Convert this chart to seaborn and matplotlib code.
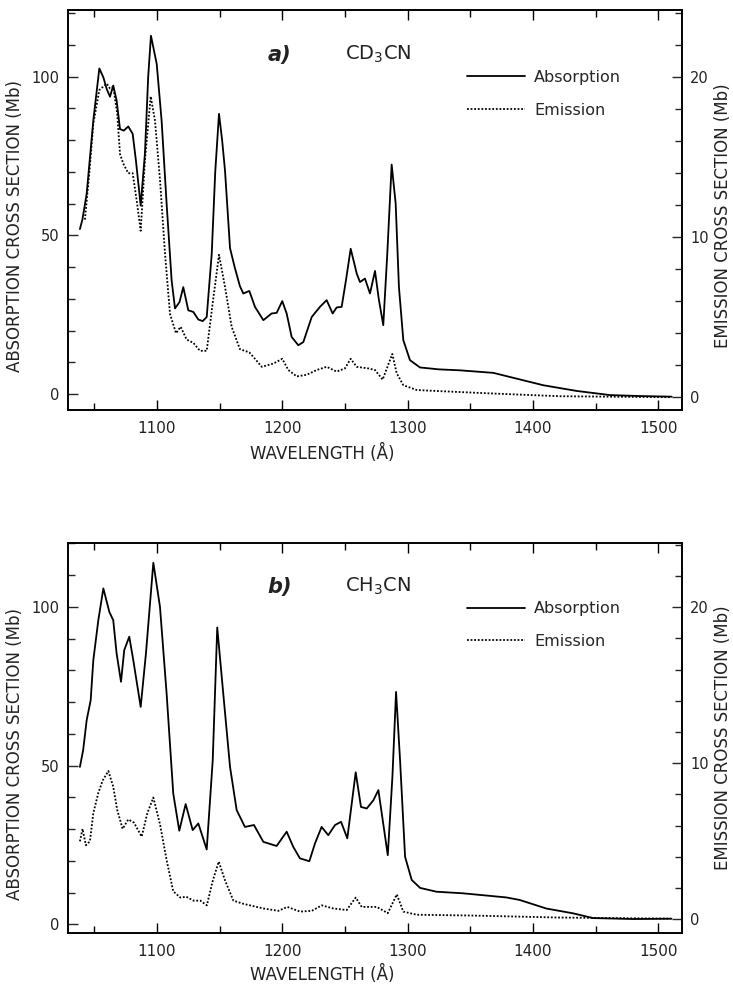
import numpy as np
import pandas as pd
import matplotlib
matplotlib.use("Agg")
import matplotlib.pyplot as plt
from matplotlib.ticker import MultipleLocator
import seaborn as sns

# ---------------- data ----------------
# Panel a) CD3CN
wl_a_abs = [1038.5, 1040.5, 1043.9, 1049.2, 1054.0, 1057.2, 1060.0, 1062.5, 1065.1, 1067.8,
            1070.5, 1073.5, 1077.1, 1080.6, 1083.2, 1087.0, 1090.4, 1093.0, 1095.2, 1099.8,
            1103.7, 1107.7, 1111.7, 1114.4, 1118.0, 1121.0, 1125.0, 1129.0, 1133.0, 1136.5,
            1139.7, 1143.7, 1146.5, 1149.5, 1152.0, 1154.3, 1158.3, 1162.0, 1166.2, 1168.9,
            1173.7, 1178.2, 1184.9, 1191.5, 1195.5, 1200.0, 1203.5, 1207.5, 1212.8, 1216.8,
            1223.5, 1230.1, 1235.4, 1240.2, 1243.4, 1247.4, 1250.8, 1254.6, 1259.4, 1262.0,
            1266.0, 1270.0, 1274.0, 1277.0, 1280.6, 1283.8, 1287.3, 1290.5, 1293.1, 1296.6,
            1301.9, 1309.9, 1325.0, 1341.8, 1368.4, 1381.7, 1408.3, 1435.0, 1461.5, 1485.0,
            1510.8]
abs_a = [52.0, 55.0, 63.1, 86.2, 102.6, 99.8, 96.0, 93.7, 97.2, 92.5,
         83.5, 83.0, 84.3, 82.0, 73.6, 59.4, 75.8, 100.0, 112.9, 104.0,
         86.2, 60.0, 35.8, 27.0, 29.0, 33.7, 26.4, 25.9, 23.5, 23.0,
         24.3, 44.2, 70.0, 88.3, 80.0, 70.4, 46.0, 40.0, 34.0, 31.7,
         32.5, 27.5, 23.3, 25.4, 25.6, 29.3, 25.4, 18.0, 15.4, 16.4,
         24.3, 27.5, 29.6, 25.4, 27.3, 27.5, 35.8, 45.8, 38.0, 35.3,
         36.4, 31.7, 38.8, 30.0, 21.7, 44.2, 72.3, 60.0, 33.7, 17.0,
         10.7, 8.4, 7.8, 7.5, 6.7, 5.4, 2.8, 1.0, -0.3, -0.6,
         -0.8]
wl_a_em = [1042.5, 1046.0, 1049.2, 1054.0, 1059.9, 1062.5, 1065.1, 1068.3, 1070.5, 1073.1,
           1077.1, 1080.6, 1083.8, 1087.0, 1090.4, 1095.0, 1098.4, 1102.4, 1106.4, 1110.4,
           1115.2, 1118.9, 1123.7, 1129.0, 1134.3, 1139.7, 1144.5, 1149.5, 1154.3, 1159.6,
           1166.2, 1173.7, 1178.2, 1183.6, 1192.8, 1200.0, 1204.8, 1211.5, 1219.5, 1227.5,
           1235.4, 1243.4, 1250.0, 1254.6, 1259.4, 1268.6, 1274.0, 1280.1, 1287.8, 1291.3,
           1296.6, 1307.3, 1320.0, 1368.0, 1421.6, 1510.0]
em_a = [11.1, 14.0, 17.1, 19.2, 19.6, 19.3, 19.4, 17.7, 15.2, 14.6,
        14.0, 14.0, 12.3, 10.4, 14.8, 18.8, 17.3, 13.6, 9.0, 5.2,
        4.0, 4.4, 3.6, 3.4, 2.9, 2.9, 5.9, 8.9, 6.9, 4.4,
        3.0, 2.8, 2.4, 1.9, 2.1, 2.4, 1.7, 1.3, 1.4, 1.7,
        1.9, 1.6, 1.8, 2.4, 1.9, 1.8, 1.7, 1.1, 2.7, 1.5,
        0.75, 0.45, 0.4, 0.23, 0.06, 0.0]

# Panel b) CH3CN
wl_b_abs = [1038.5, 1041.1, 1043.9, 1047.1, 1049.2, 1053.2, 1057.2, 1062.0, 1065.1, 1067.8,
            1071.3, 1073.9, 1077.9, 1081.1, 1087.0, 1091.2, 1097.1, 1102.4, 1107.7, 1113.0,
            1117.8, 1122.9, 1128.5, 1133.0, 1139.7, 1144.5, 1148.1, 1152.9, 1158.3, 1163.6,
            1170.2, 1177.4, 1184.9, 1195.5, 1203.5, 1208.8, 1214.1, 1221.6, 1226.1, 1231.4,
            1236.7, 1242.1, 1246.9, 1251.9, 1258.6, 1262.8, 1267.4, 1272.7, 1276.7, 1284.2,
            1287.9, 1290.8, 1294.0, 1298.0, 1303.3, 1310.0, 1323.0, 1344.2, 1378.8, 1389.5,
            1410.8, 1432.0, 1448.0, 1480.0, 1510.6]
abs_b = [49.6, 54.9, 64.3, 70.6, 83.2, 95.8, 105.8, 98.4, 95.8, 85.3,
         76.4, 86.4, 90.6, 83.2, 68.5, 85.3, 113.9, 100.0, 72.7, 41.2,
         29.5, 37.9, 29.7, 31.8, 23.6, 51.7, 93.5, 72.7, 49.6, 36.0,
         30.7, 31.3, 26.0, 24.7, 29.2, 24.4, 20.8, 19.9, 25.5, 30.7,
         28.1, 31.3, 32.3, 27.1, 47.9, 37.0, 36.5, 39.1, 42.3, 21.8,
         46.5, 73.2, 51.7, 21.3, 14.0, 11.5, 10.3, 9.8, 8.5, 7.7,
         5.0, 3.5, 2.0, 1.7, 1.8]
wl_b_em = [1038.5, 1040.6, 1043.3, 1046.5, 1049.2, 1053.2, 1056.7, 1061.2, 1065.1, 1068.3,
           1072.6, 1077.1, 1081.6, 1087.8, 1092.3, 1097.1, 1102.4, 1107.7, 1113.0, 1118.6,
           1123.4, 1129.2, 1134.6, 1139.8, 1144.6, 1149.3, 1154.3, 1161.0, 1168.9, 1184.9,
           1196.9, 1204.1, 1214.2, 1223.6, 1231.5, 1240.7, 1251.4, 1258.6, 1263.4, 1275.4,
           1284.2, 1291.4, 1296.6, 1307.3, 1350.0, 1420.0, 1510.0]
em_b = [5.0, 5.8, 4.75, 5.0, 6.8, 8.1, 8.9, 9.5, 8.5, 7.0,
        5.8, 6.4, 6.2, 5.3, 6.8, 7.8, 6.1, 3.8, 1.8, 1.4,
        1.45, 1.2, 1.2, 0.9, 2.5, 3.7, 2.5, 1.2, 1.0, 0.7,
        0.55, 0.8, 0.5, 0.55, 0.9, 0.7, 0.6, 1.4, 0.8, 0.8,
        0.4, 1.6, 0.5, 0.3, 0.25, 0.12, 0.05]

panel_tags = ["a)", "b)"]
molecules = ["CD$_3$CN", "CH$_3$CN"]
series_labels = ["Absorption", "Emission"]
x_label = "WAVELENGTH (Å)"
left_label = "ABSORPTION CROSS SECTION (Mb)"
right_label = "EMISSION CROSS SECTION (Mb)"

# ---------------- styling ----------------
sns.set_style("ticks")
plt.rcParams["font.family"] = ["DejaVu Sans"]
plt.rcParams["mathtext.default"] = "regular"

fig = plt.figure(figsize=(7.33, 9.88), dpi=100)
W, H = 733.0, 988.0

panels = [
    dict(wa=wl_a_abs, a=abs_a, we=wl_a_em, e=em_a, top=10, bot=410,
         ylim=(-5.0, 121.0), ylim2=(-0.8, 24.2),
         ylab_y=0.46, ylab2_y=0.485, xlab_y=-0.085),
    dict(wa=wl_b_abs, a=abs_b, we=wl_b_em, e=em_b, top=543, bot=933,
         ylim=(-2.7, 120.1), ylim2=(-0.87, 24.1),
         ylab_y=0.46, ylab2_y=0.50, xlab_y=-0.082),
]

lw_spine = 1.2
TXT = "#222222"
for i, p in enumerate(panels):
    left, right = 68, 682
    ax = fig.add_axes([left / W, 1 - p["bot"] / H, (right - left) / W, (p["bot"] - p["top"]) / H])
    ax2 = ax.twinx()

    da = pd.DataFrame({"wl": p["wa"], "val": p["a"]})
    de = pd.DataFrame({"wl": p["we"], "val": p["e"]})
    sns.lineplot(data=da, x="wl", y="val", ax=ax, color="black", linewidth=1.3,
                 label=series_labels[0], legend=False, estimator=None)
    sns.lineplot(data=de, x="wl", y="val", ax=ax2, color="black", linewidth=1.3,
                 linestyle=(0, (1, 1)), label=series_labels[1], legend=False, estimator=None)

    ax.set_xlim(1029, 1519)
    ax.set_ylim(*p["ylim"])
    ax2.set_ylim(*p["ylim2"])

    ax.xaxis.set_major_locator(MultipleLocator(100))
    ax.xaxis.set_minor_locator(MultipleLocator(50))
    ax.yaxis.set_major_locator(MultipleLocator(50))
    ax.yaxis.set_minor_locator(MultipleLocator(10))
    ax2.yaxis.set_major_locator(MultipleLocator(10))
    ax2.yaxis.set_minor_locator(MultipleLocator(2))

    ax.tick_params(axis="x", which="both", direction="in", top=True, bottom=True,
                   labelsize=11, pad=8, color="black", labelcolor=TXT)
    ax.tick_params(axis="x", which="major", length=7, width=1.0)
    ax.tick_params(axis="x", which="minor", length=5, width=1.0)
    ax.tick_params(axis="y", which="both", direction="in", left=True, right=False,
                   labelsize=10.5, pad=6, labelcolor=TXT)
    ax.tick_params(axis="y", which="major", length=7, width=1.0)
    ax.tick_params(axis="y", which="minor", length=5, width=1.0)
    ax2.tick_params(axis="y", which="both", direction="in", right=True,
                    labelsize=10.5, pad=6, labelcolor=TXT)
    ax2.tick_params(axis="y", which="major", length=7, width=1.0)
    ax2.tick_params(axis="y", which="minor", length=5, width=1.0)

    for a_ in (ax, ax2):
        for s in a_.spines.values():
            s.set_linewidth(lw_spine)
            s.set_color("black")
            s.set_visible(True)

    ax.set_xlabel(x_label, fontsize=12, color=TXT)
    ax.xaxis.set_label_coords((322 - left) / (right - left), p["xlab_y"])
    ax.set_ylabel(left_label, fontsize=12, color=TXT)
    ax.yaxis.set_label_coords(-0.072, p["ylab_y"])
    ax2.set_ylabel(right_label, fontsize=12, color=TXT)
    ax2.yaxis.set_label_coords(1.052, p["ylab2_y"])

    ax.text(0.345, 0.888, panel_tags[i], transform=ax.transAxes, fontsize=15,
            fontweight="bold", fontstyle="italic", ha="center", va="center", color=TXT)
    ax.text(0.451, 0.888, molecules[i], transform=ax.transAxes, fontsize=14,
            ha="left", va="center", color=TXT)

    h1, l1 = ax.get_legend_handles_labels()
    h2, l2 = ax2.get_legend_handles_labels()
    ax.legend(h1 + h2, l1 + l2, loc="upper left", bbox_to_anchor=(0.65, 0.85),
              frameon=False, fontsize=11.5, handlelength=3.6, handletextpad=0.6,
              labelspacing=1.1, borderpad=0.0, borderaxespad=0.0)

fig.savefig("out.png", dpi=100)
